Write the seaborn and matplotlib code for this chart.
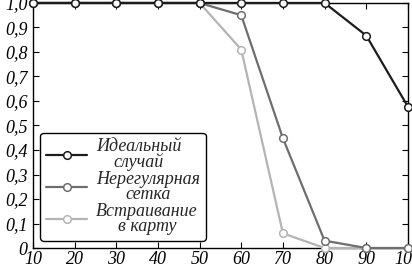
import matplotlib
matplotlib.use("Agg")
import matplotlib.pyplot as plt
import seaborn as sns
import pandas as pd
from matplotlib.lines import Line2D

x = [10, 20, 30, 40, 50, 60, 70, 80, 90, 100]
ideal = [1.0, 1.0, 1.0, 1.0, 1.0, 1.0, 1.0, 1.0, 0.867, 0.577]
irregular = [1.0, 1.0, 1.0, 1.0, 1.0, 0.95, 0.448, 0.03, 0.0, 0.0]
embedding = [1.0, 1.0, 1.0, 1.0, 1.0, 0.81, 0.06, 0.0, 0.0, 0.0]
labels = ["Идеальный\nслучай", "Нерегулярная\nсетка", "Встраивание\nв карту"]
colors = ["#1c1c1c", "#6e6e6e", "#b4b4b4"]
yticks = [0, 0.1, 0.2, 0.3, 0.4, 0.5, 0.6, 0.7, 0.8, 0.9, 1.0]
ytick_labels = ["0", "0,1", "0,2", "0,3", "0,4", "0,5", "0,6", "0,7", "0,8", "0,9", "1,0"]

df = pd.concat([
    pd.DataFrame({"x": x, "y": vals, "s": lab})
    for vals, lab in zip([ideal, irregular, embedding], labels)
])

sns.set_style("ticks")
plt.rcParams["font.family"] = ["Liberation Serif", "DejaVu Serif"]
plt.rcParams["font.style"] = "italic"

fig = plt.figure(figsize=(4.12, 2.69), dpi=100)
ax = fig.add_axes([0.080, 0.078, 0.910, 0.911])

sns.lineplot(data=df, x="x", y="y", hue="s", hue_order=labels,
             palette=colors, ax=ax, legend=False, linewidth=1.6,
             marker="o", markersize=5.5, markerfacecolor="white",
             markeredgewidth=1.1)
for i, (ln, c) in enumerate(zip(ax.lines, colors)):
    ln.set_markeredgecolor(c)
    ln.set_clip_on(False)
    ln.set_zorder(5 - i)

ax.set_xlim(10, 100)
ax.set_ylim(0, 1.0)
ax.set_xticks(x)
ax.set_xticklabels([str(v) for v in x], fontsize=13, style="italic")
ax.set_yticks(yticks)
ax.set_yticklabels(ytick_labels, fontsize=13, style="italic")
ax.set_xlabel("")
ax.set_ylabel("")
ax.tick_params(direction="in", top=True, right=True, length=4, width=0.8,
               colors="black")
ax.tick_params(axis="y", pad=4)
ax.tick_params(axis="x", pad=2)
for sp in ax.spines.values():
    sp.set_linewidth(1.0)
    sp.set_color("black")

handles = [Line2D([], [], color=c, lw=1.6, marker="o", markersize=5.5,
                  markerfacecolor="white", markeredgecolor=c, markeredgewidth=1.1)
           for c in colors]
leg = ax.legend(handles, labels, loc="lower left", bbox_to_anchor=(0.01, 0.015),
                fontsize=13, frameon=True, fancybox=True, edgecolor="black",
                framealpha=1, handlelength=2.3, labelspacing=0.0,
                borderpad=0.3, handletextpad=0.5, borderaxespad=0.2)
leg.get_frame().set_linewidth(1.0)
for t in leg.get_texts():
    t.set_multialignment("center")
    t.set_linespacing(0.85)
    t.set_style("italic")

fig.savefig("out.png", dpi=100)
